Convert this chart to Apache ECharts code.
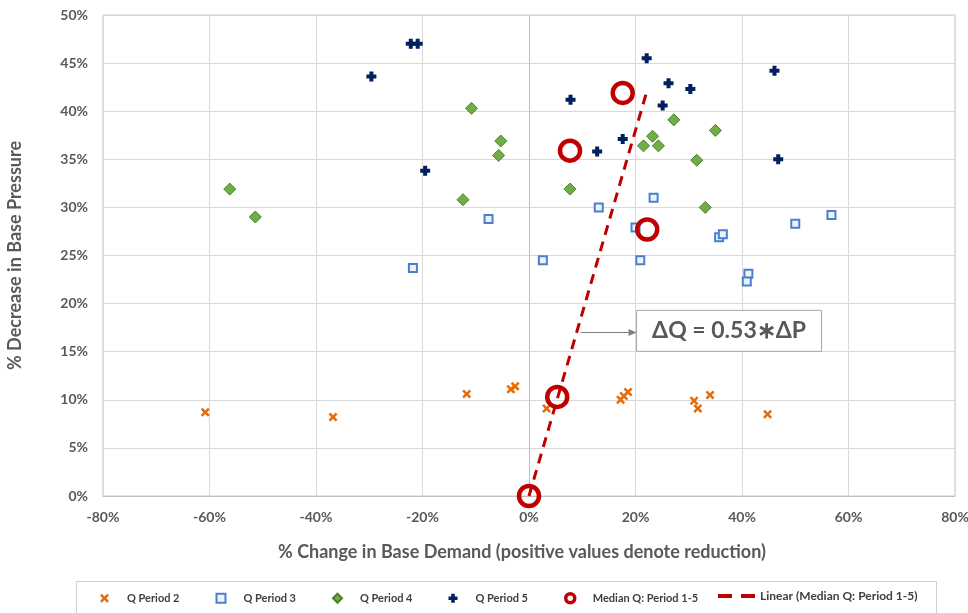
<!DOCTYPE html>
<html>
<head>
<meta charset="utf-8">
<script src="https://cdn.jsdelivr.net/npm/echarts@6/dist/echarts.min.js"></script>
<style>html,body{margin:0;padding:0;background:#fff}#c{width:968px;height:613px}</style>
</head>
<body>
<div id="c"></div>
<script>
// Data: [% change in base demand, % decrease in base pressure]
const qPeriod2 = [[-60.8,8.7],[-36.8,8.2],[-11.7,10.6],[-3.4,11.1],[-2.6,11.4],[3.3,9.1],[17.2,10.0],[17.8,10.4],[18.6,10.8],[31.0,9.9],[31.7,9.1],[34.0,10.5],[44.8,8.5]];
const qPeriod3 = [[-7.6,28.8],[-21.8,23.7],[2.6,24.5],[13.1,30.0],[23.4,31.0],[20.0,27.9],[20.9,24.5],[35.7,26.9],[36.4,27.2],[50.0,28.3],[56.8,29.2],[41.2,23.1],[40.9,22.3]];
const qPeriod4 = [[-10.8,40.3],[-5.3,36.9],[-5.7,35.4],[-56.2,31.9],[-51.4,29.0],[-12.4,30.8],[27.2,39.1],[35.0,38.0],[23.2,37.4],[21.5,36.4],[24.3,36.4],[31.5,34.9],[7.7,31.9],[33.1,30.0]];
const qPeriod5 = [[-22.2,47.0],[-20.9,47.0],[-29.6,43.6],[-19.5,33.8],[22.1,45.5],[46.1,44.2],[26.2,42.9],[30.3,42.3],[7.8,41.2],[25.1,40.6],[17.6,37.1],[12.8,35.8],[46.8,35.0]];
const medianQ = [[0,0],[5.3,10.3],[7.7,35.9],[17.6,41.9],[22.2,27.7]];
const linearFit = [[0,0],[22.2,42.2]];
const seriesNames = ['Q Period 2','Q Period 3','Q Period 4','Q Period 5','Median Q: Period 1-5','Linear (Median Q: Period 1-5)'];
const xTitle = '% Change in Base Demand (positive values denote reduction)';
const yTitle = '% Decrease in Base Pressure';
const annotationText = 'ΔQ = 0.53∗ΔP';

const FONT = 'Lato, "Open Sans", sans-serif';
const plusPath = 'path://M3,0H7V3H10V7H7V10H3V7H0V3H3Z';
const xPath = 'path://M2,0L5,3L8,0L10,2L7,5L10,8L8,10L5,7L2,10L0,8L3,5L0,2Z';
const dashPairPath = 'path://M0,0H14V4H0Z M23,0H37V4H23Z';

const legendText = {fontFamily: FONT, fontSize: 11, fontWeight: 'bold', color: '#404040', padding: [0, 0, 0, 13]};

const chart = echarts.init(document.getElementById('c'));
const option = {
  animation: false,
  backgroundColor: '#fff',
  grid: {left: 103, right: 13, top: 15, bottom: 117, outerBoundsMode: 'none', containLabel: false,
         show: true, borderColor: '#c9c9c9', borderWidth: 1},
  xAxis: {
    type: 'value', min: -80, max: 80, interval: 20,
    name: xTitle, nameLocation: 'middle', nameGap: 47,
    nameTextStyle: {fontFamily: FONT, fontWeight: 'bold', fontSize: 18, color: '#595959', padding: [0, 14, 0, 0]},
    axisLine: {show: true, onZero: true, lineStyle: {color: '#bfbfbf'}},
    axisTick: {show: false},
    axisLabel: {formatter: '{value}%', fontFamily: FONT, fontWeight: 'bold', fontSize: 14, color: '#595959', margin: 14},
    splitLine: {lineStyle: {color: '#d9d9d9'}}
  },
  yAxis: {
    type: 'value', min: 0, max: 50, interval: 5,
    name: yTitle, nameLocation: 'middle', nameGap: 79, nameRotate: 90,
    nameTextStyle: {fontFamily: FONT, fontWeight: 'bold', fontSize: 18, color: '#595959'},
    axisLine: {show: false, onZero: false},
    axisTick: {show: false},
    axisLabel: {formatter: '{value}%', fontFamily: FONT, fontWeight: 'bold', fontSize: 14, color: '#595959', margin: 15},
    splitLine: {lineStyle: {color: '#d9d9d9'}}
  },
  legend: [
    {
      left: 100, top: 592,
      padding: 0, itemGap: 36, itemWidth: 9, itemHeight: 9,
      textStyle: legendText,
      data: [
        {name: seriesNames[0]}, {name: seriesNames[1]}, {name: seriesNames[2]},
        {name: seriesNames[3]},
        {name: seriesNames[4], icon: 'circle', itemStyle: {color: '#ffffff', borderColor: '#C00000', borderWidth: 3.5}}
      ]
    },
    {
      left: 718, top: 590,
      padding: 0, itemWidth: 37, itemHeight: 4,
      textStyle: Object.assign({}, legendText, {fontSize: 12, padding: [0, 0, 0, 0]}),
      data: [{name: seriesNames[5], icon: dashPairPath}]
    }
  ],
  series: [
    {name: seriesNames[0], type: 'scatter', data: qPeriod2, symbol: xPath, symbolSize: 9,
     itemStyle: {color: '#E46C0A', opacity: 1}, z: 3},
    {name: seriesNames[1], type: 'scatter', data: qPeriod3, symbol: 'rect', symbolSize: 8,
     itemStyle: {color: '#eef3fb', borderColor: '#4a7fd0', borderWidth: 2, opacity: 1}, z: 3},
    {name: seriesNames[2], type: 'scatter', data: qPeriod4, symbol: 'diamond', symbolSize: 12,
     itemStyle: {color: '#70AD47', borderColor: '#4E7F30', borderWidth: 1, opacity: 1}, z: 3},
    {name: seriesNames[3], type: 'scatter', data: qPeriod5, symbol: plusPath, symbolSize: 10,
     itemStyle: {color: '#002060', opacity: 1}, z: 3,
     markLine: {silent: true, symbol: 'none', label: {show: false},
       lineStyle: {color: '#bfbfbf', type: 'solid', width: 1}, data: [{xAxis: 0}]}},
    {name: seriesNames[4], type: 'scatter', data: medianQ, symbol: 'circle', symbolSize: 20,
     itemStyle: {color: 'rgba(255,255,255,0)', borderColor: '#C00000', borderWidth: 4.5, opacity: 1}, z: 5},
    {name: seriesNames[5], type: 'line', data: linearFit, symbol: 'none', z: 6,
     lineStyle: {color: '#C00000', width: 3, type: [10, 7]}, itemStyle: {color: '#C00000'}}
  ]
};
chart.setOption(option);

// Annotation box with arrow pointing to the trendline, plus legend frame
const arrowStart = chart.convertToPixel({gridIndex: 0}, [9.7, 17]);
const boxTL = chart.convertToPixel({gridIndex: 0}, [20.2, 19.3]);
const boxW = 185, boxH = 41;
chart.setOption({
  graphic: [
    {type: 'rect', z: 1, shape: {x: 76.5, y: 581.5, width: 860, height: 40},
     style: {fill: 'none', stroke: '#d0d0d0', lineWidth: 1}},
    {type: 'line', z: 10, shape: {x1: arrowStart[0], y1: arrowStart[1], x2: boxTL[0] - 6, y2: arrowStart[1]},
     style: {stroke: '#7f7f7f', lineWidth: 1}},
    {type: 'polygon', z: 10, shape: {points: [[boxTL[0], arrowStart[1]], [boxTL[0] - 8, arrowStart[1] - 3.5], [boxTL[0] - 8, arrowStart[1] + 3.5]]},
     style: {fill: '#7f7f7f'}},
    {type: 'rect', z: 10, shape: {x: boxTL[0], y: boxTL[1], width: boxW, height: boxH},
     style: {fill: '#fff', stroke: '#a6a6a6', lineWidth: 1}},
    {type: 'text', z: 11, x: boxTL[0] + boxW / 2, y: boxTL[1] + boxH / 2,
     style: {text: annotationText, fill: '#595959', font: 'bold 23px ' + FONT, align: 'center', verticalAlign: 'middle'}}
  ]
});
</script>
</body>
</html>
